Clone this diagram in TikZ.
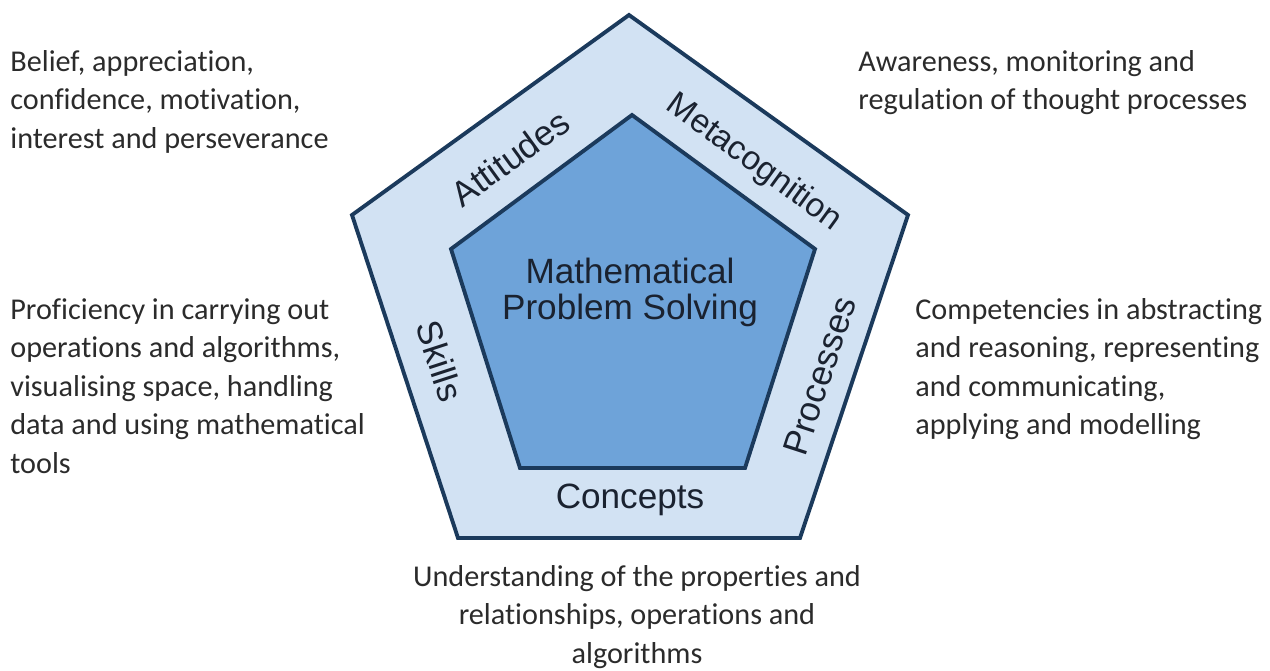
\documentclass[tikz,border=0pt]{standalone}
\usepackage{fontspec}
\setmainfont{Carlito}[Ligatures = NoCommon]
\newfontfamily\labelfont{Liberation Sans}
\usetikzlibrary{positioning}
\definecolor{mline}{HTML}{1B3A5C}
\definecolor{mouter}{HTML}{D2E2F3}
\definecolor{minner}{HTML}{6EA3D9}
\definecolor{mtext}{HTML}{2B2B2B}
\definecolor{mlabel}{HTML}{1A2230}
\tikzset{note/.style = {inner sep = 0, text = mtext, font = \fontsize{17.2}{21.9}\selectfont}}
\tikzset{side/.style = {inner sep = 0, text = mlabel, font = \labelfont\fontsize{20}{21}\selectfont}}
\tikzset{pent/.style = {draw = mline, line width = 2.2pt, line join = miter}}

\begin{document}
\begin{tikzpicture}[x = 0.02cm, y = -0.02cm]
  \useasboundingbox (0, 0) rectangle (1270, 671);

  % outer pentagon
  \coordinate (o1) at (629, 15);
  \coordinate (o2) at (908, 215);
  \coordinate (o3) at (800, 538);
  \coordinate (o4) at (458, 538);
  \coordinate (o5) at (352, 215);
  \draw [pent, fill = mouter] (o1) -- (o2) -- (o3) -- (o4) -- (o5) -- cycle;

  % inner pentagon
  \coordinate (i1) at (632, 115);
  \coordinate (i2) at (815, 249);
  \coordinate (i3) at (745, 468);
  \coordinate (i4) at (520, 468);
  \coordinate (i5) at (451, 249);
  \draw [pent, fill = minner] (i1) -- (i2) -- (i3) -- (i4) -- (i5) -- cycle;

  \node [side, align = center, font = \labelfont\fontsize{20}{20.5}\selectfont] (mps) at (630, 292) {Mathematical\\Problem Solving};
  \node [side, rotate = 36] (att) at (510, 158) {Attitudes};
  \node [side, rotate = -36, font = \labelfont\fontsize{19}{21}\selectfont] (meta) at (754, 163) {Metacognition};
  \node [side, rotate = -72] (skl) at (440, 361) {Skills};
  \node [side, rotate = 72] (proc) at (820, 376) {Processes};
  \node [side] (conc) at (630, 500) {Concepts};

  \node [note, anchor = north west, align = left] (belief) at (10, 50) {Belief, appreciation,\\confidence, motivation,\\interest and perseverance};
  \node [note, anchor = north west, align = left] (aware) at (858, 50) {Awareness, monitoring and\\regulation of thought processes};
  \node [note, anchor = north west, align = left] (prof) at (10, 298) {Proficiency in carrying out\\operations and algorithms,\\visualising space, handling\\data and using mathematical\\tools};
  \node [note, anchor = north west, align = left] (comp) at (915, 298) {Competencies in abstracting\\and reasoning, representing\\and communicating,\\applying and modelling};
  \node [note, anchor = north, align = center] (und) at (637, 565) {Understanding of the properties and\\relationships, operations and\\algorithms};
\end{tikzpicture}
\end{document}
